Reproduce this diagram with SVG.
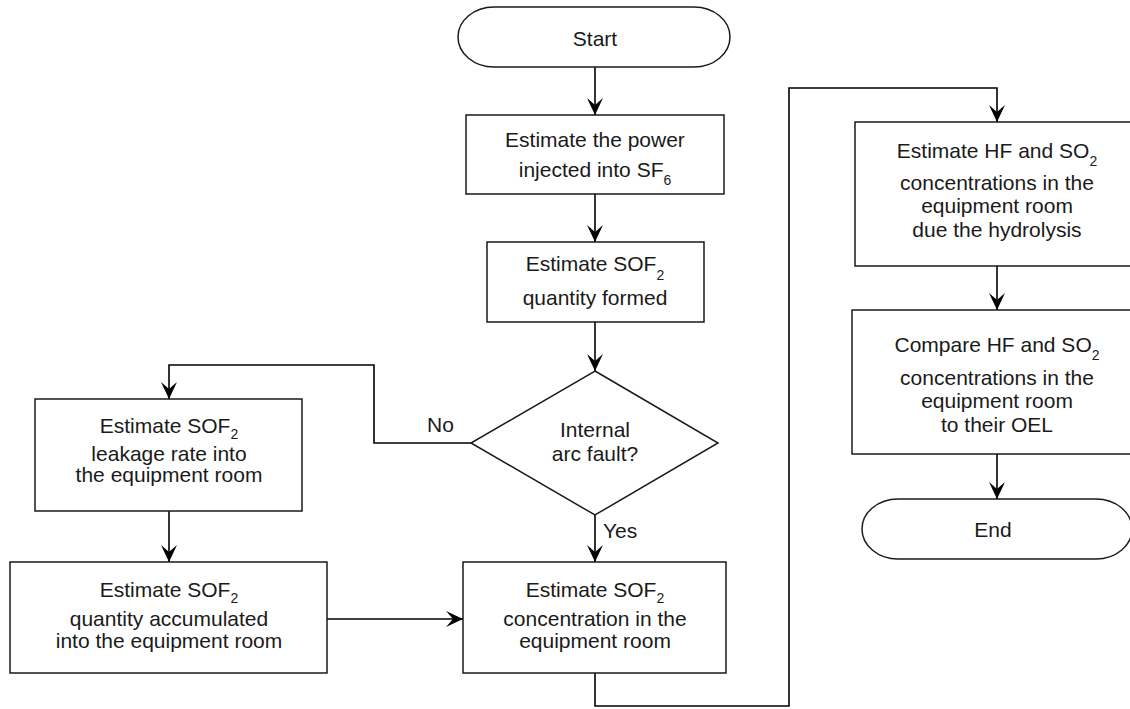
<svg xmlns="http://www.w3.org/2000/svg" width="1130" height="709" viewBox="0 0 1130 709">
<style>
.box{fill:#fff;stroke:#1a1a1a;stroke-width:1.5}
.ln{fill:none;stroke:#000;stroke-width:1.6}
text{font-family:"Liberation Sans",Arial,sans-serif;font-size:21px;fill:#1a1a1a;text-anchor:middle}
.sub{font-size:14px}
.lbl{text-anchor:start}
</style>
<defs>
<marker id="arr" markerUnits="userSpaceOnUse" viewBox="0 0 17 16" refX="17" refY="8" markerWidth="17" markerHeight="16" orient="auto">
<path d="M0,0 L17,8 L0,16 L7,8 z" fill="#000"/>
</marker>
</defs>
<rect width="1130" height="709" fill="#fff"/>
<g id="connectors">
<path class="ln" d="M595,67 V115" marker-end="url(#arr)"/>
<path class="ln" d="M595,194 V242" marker-end="url(#arr)"/>
<path class="ln" d="M595,322 V371" marker-end="url(#arr)"/>
<path class="ln" d="M595,515 V562" marker-end="url(#arr)"/>
<path class="ln" d="M471,443 H374 V365 H169 V399" marker-end="url(#arr)"/>
<path d="M478,439 L471,443 L478,447" fill="none" stroke="#000" stroke-width="1"/>
<path class="ln" d="M169,511 V562" marker-end="url(#arr)"/>
<path class="ln" d="M327,619 H463" marker-end="url(#arr)"/>
<path class="ln" d="M595,673 V706 H789 V88 H997 V122" marker-end="url(#arr)"/>
<path class="ln" d="M997,266 V310" marker-end="url(#arr)"/>
<path class="ln" d="M997,454 V499" marker-end="url(#arr)"/>
<text class="lbl" x="427" y="432">No</text>
<text class="lbl" x="603" y="538">Yes</text>
</g>
<g id="start">
<rect class="box" x="458" y="7" width="272" height="60" rx="36" ry="30"/>
<text x="595" y="46">Start</text>
</g>
<g id="power">
<rect class="box" x="466" y="115" width="258" height="79"/>
<text x="595" y="147">Estimate the power</text>
<text x="595" y="177">injected into SF<tspan class="sub" dy="8">6</tspan></text>
</g>
<g id="sof2formed">
<rect class="box" x="487" y="242" width="217" height="80"/>
<text x="595" y="271">Estimate SOF<tspan class="sub" dy="9">2</tspan></text>
<text x="595" y="305">quantity formed</text>
</g>
<g id="decision">
<polygon class="box" points="595,371 718,443 595,515 471,443"/>
<text x="595" y="437">Internal</text>
<text x="595" y="461">arc fault?</text>
</g>
<g id="leakage">
<rect class="box" x="35" y="399" width="267" height="112"/>
<text x="169" y="433">Estimate SOF<tspan class="sub" dy="6">2</tspan></text>
<text x="169" y="461">leakage rate into</text>
<text x="169" y="482">the equipment room</text>
</g>
<g id="accumulated">
<rect class="box" x="10" y="562" width="317" height="111"/>
<text x="169" y="597">Estimate SOF<tspan class="sub" dy="6">2</tspan></text>
<text x="169" y="626">quantity accumulated</text>
<text x="169" y="648">into the equipment room</text>
</g>
<g id="concentration">
<rect class="box" x="463" y="562" width="263" height="111"/>
<text x="595" y="597">Estimate SOF<tspan class="sub" dy="6">2</tspan></text>
<text x="595" y="626">concentration in the</text>
<text x="595" y="648">equipment room</text>
</g>
<g id="hydrolysis">
<rect class="box" x="855" y="122" width="284" height="144"/>
<text x="997" y="158">Estimate HF and SO<tspan class="sub" dy="8">2</tspan></text>
<text x="997" y="190">concentrations in the</text>
<text x="997" y="213">equipment room</text>
<text x="997" y="237">due the hydrolysis</text>
</g>
<g id="compare">
<rect class="box" x="852" y="310" width="290" height="144"/>
<text x="997" y="352">Compare HF and SO<tspan class="sub" dy="8">2</tspan></text>
<text x="997" y="385">concentrations in the</text>
<text x="997" y="408">equipment room</text>
<text x="997" y="432">to their OEL</text>
</g>
<g id="end">
<rect class="box" x="862" y="499" width="270" height="60" rx="36" ry="30"/>
<text x="993" y="537">End</text>
</g>
</svg>
